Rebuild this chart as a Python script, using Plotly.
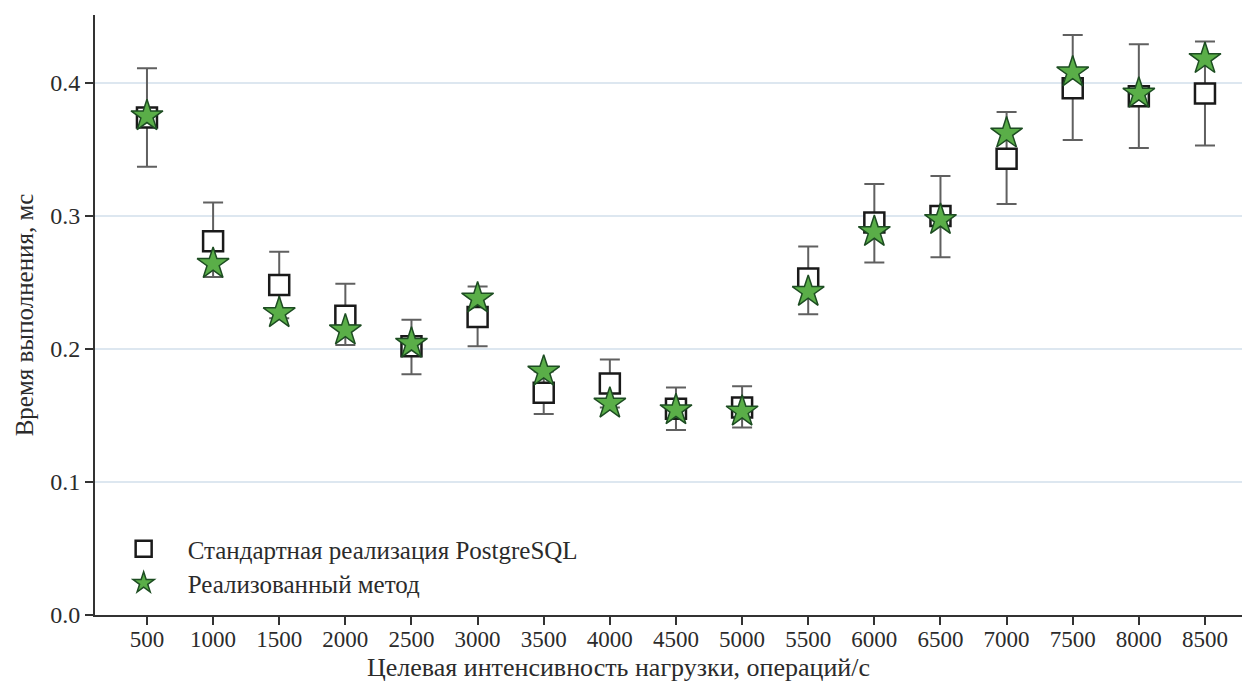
import plotly.graph_objects as go

loads = [500, 1000, 1500, 2000, 2500, 3000, 3500, 4000, 4500, 5000, 5500, 6000, 6500, 7000, 7500, 8000, 8500]

pg_time = [0.374, 0.281, 0.248, 0.225, 0.202, 0.224, 0.167, 0.174, 0.155, 0.156, 0.253, 0.295, 0.300, 0.343, 0.396, 0.390, 0.392]
pg_err_up = [0.037, 0.029, 0.025, 0.024, 0.020, 0.023, 0.016, 0.018, 0.016, 0.016, 0.024, 0.029, 0.030, 0.035, 0.040, 0.039, 0.039]
pg_err_down = [0.037, 0.027, 0.025, 0.022, 0.021, 0.022, 0.016, 0.018, 0.016, 0.015, 0.027, 0.030, 0.031, 0.034, 0.039, 0.039, 0.039]

new_time = [0.375, 0.264, 0.227, 0.214, 0.204, 0.238, 0.183, 0.159, 0.154, 0.153, 0.243, 0.288, 0.297, 0.362, 0.408, 0.392, 0.418]

y_ticks = [0.0, 0.1, 0.2, 0.3, 0.4]

x_title = "Целевая интенсивность нагрузки, операций/с"
y_title = "Время выполнения, мс"

font_family = "Liberation Serif"
text_color = "#2b2b2b"

fig = go.Figure()

fig.add_trace(go.Scatter(
    x=loads, y=pg_time, mode="markers",
    name="Стандартная реализация PostgreSQL",
    marker=dict(symbol="square", size=20, color="white",
                line=dict(color="#1a1a1a", width=2.5)),
    error_y=dict(type="data", symmetric=False, array=pg_err_up, arrayminus=pg_err_down,
                 color="#606060", thickness=2, width=10),
    legend="legend",
))

fig.add_trace(go.Scatter(
    x=loads, y=new_time, mode="markers",
    name="Реализованный метод",
    marker=dict(symbol="star", size=24, color="#5aae48",
                line=dict(color="#1d4d22", width=1.5)),
    legend="legend2",
))

leg_common = dict(xanchor="left", yanchor="middle", bgcolor="rgba(0,0,0,0)",
                  font=dict(size=25, family=font_family, color=text_color), itemwidth=78)

fig.update_layout(
    width=1250, height=684,
    paper_bgcolor="white", plot_bgcolor="white",
    margin=dict(l=87, r=0, t=7, b=77),
    font=dict(family=font_family, size=24, color=text_color),
    showlegend=True,
    legend=dict(x=0.004, y=0.11, **leg_common),
    legend2=dict(x=0.004, y=0.053, **leg_common),
    annotations=[dict(text=x_title, xref="paper", yref="paper", x=0.45, y=-0.088,
                      xanchor="center", yanchor="middle", showarrow=False,
                      font=dict(size=26, family=font_family, color=text_color))],
)

fig.update_xaxes(
    range=[107, 8901], tickmode="array", tickvals=loads, ticktext=[str(v) for v in loads],
    showgrid=False, zeroline=False, showline=True, linecolor="#333333", linewidth=2,
    ticks="outside", ticklen=8, tickwidth=1.5, tickcolor="#333333",
    ticklabelstandoff=-6,
    tickfont=dict(size=23),
)

fig.update_yaxes(
    range=[0, 0.451], tickmode="array", tickvals=y_ticks, ticktext=[f"{v:.1f}" for v in y_ticks],
    showgrid=True, gridcolor="#dde7f0", gridwidth=1.5, zeroline=False,
    showline=True, linecolor="#333333", linewidth=2,
    ticks="outside", ticklen=8, tickwidth=1.5, tickcolor="#333333",
    title=dict(text=y_title, font=dict(size=25), standoff=9),
    tickfont=dict(size=24),
)

fig.write_html("out.html")
